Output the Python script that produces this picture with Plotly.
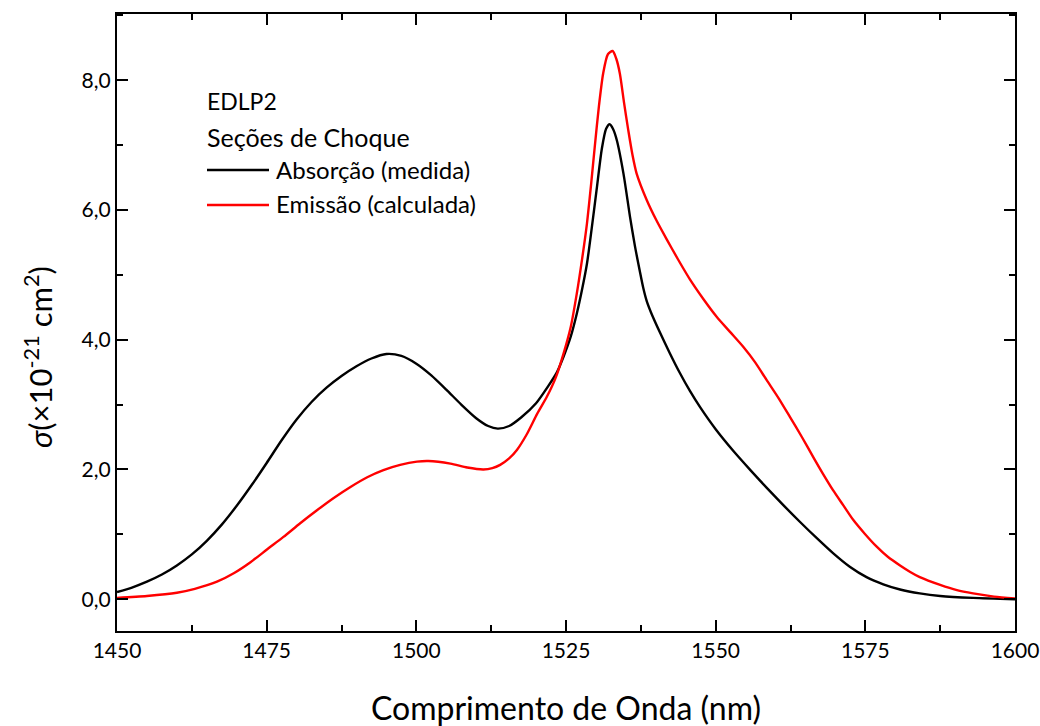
import plotly.graph_objects as go

# Absorption (measured) cross-section, x10^-21 cm^2
abs_wl = [1450, 1452.5, 1455, 1457.5, 1460, 1462.5, 1465, 1467.5, 1470, 1472.5,
          1475, 1477.5, 1480, 1482.5, 1485, 1487.5, 1490, 1492.5, 1495, 1497.5,
          1500, 1502.5, 1505, 1507.5, 1510, 1512, 1513.6, 1515.5, 1517.5, 1520,
          1522, 1523.5, 1524.6, 1525.8, 1526.8, 1527.7, 1528.5, 1529.3, 1530.1, 1531.0,
          1531.7, 1532.3, 1532.9, 1533.5, 1534.6, 1535.7, 1536.5, 1537.3, 1537.9, 1538.5,
          1539.2, 1540.7, 1542.3, 1544.0, 1545.7, 1547.4, 1550.0, 1553.0, 1555.8, 1558.5,
          1561.3, 1564.1, 1566.9, 1569.6, 1572.4, 1575.2, 1578.0, 1580.8, 1584.1, 1587.5,
          1593.0, 1600]
abs_val = [0.11, 0.18, 0.27, 0.38, 0.52, 0.69, 0.90, 1.15, 1.44, 1.76,
           2.10, 2.45, 2.77, 3.04, 3.26, 3.44, 3.59, 3.71, 3.78, 3.75,
           3.63, 3.45, 3.23, 3.00, 2.79, 2.67, 2.63, 2.67, 2.80, 3.02,
           3.28, 3.50, 3.74, 4.05, 4.40, 4.78, 5.17, 5.72, 6.30, 6.95,
           7.25, 7.32, 7.24, 7.07, 6.56, 5.89, 5.45, 5.07, 4.80, 4.59,
           4.42, 4.11, 3.80, 3.49, 3.21, 2.96, 2.62, 2.28, 1.99, 1.72,
           1.45, 1.19, 0.94, 0.71, 0.50, 0.34, 0.23, 0.15, 0.09, 0.05,
           0.02, 0.0]

# Emission (calculated) cross-section, x10^-21 cm^2
emi_wl = [1450, 1455, 1460, 1463, 1466.7, 1469.5, 1472.3, 1475.1, 1477.8, 1480.6,
          1483.4, 1486.2, 1489.0, 1491.8, 1494.5, 1497.3, 1500.1, 1502.0, 1505.7, 1508.5,
          1511.2, 1512.7, 1514.0, 1515.5, 1516.8, 1518.5, 1520.2, 1521.8, 1523.3, 1524.6,
          1525.8, 1526.8, 1527.7, 1528.5, 1529.2, 1529.8, 1530.5, 1531.2, 1532.0, 1532.8,
          1533.4, 1534.0, 1534.7, 1535.4, 1536.1, 1536.8, 1538.5, 1540.1, 1541.8, 1543.7,
          1545.7, 1548.0, 1550.2, 1552.4, 1554.6, 1556.6, 1558.5, 1560.5, 1562.4, 1564.4,
          1566.3, 1568.0, 1569.6, 1571.3, 1573.0, 1574.9, 1576.9, 1578.8, 1580.8, 1582.5,
          1584.1, 1587.5, 1590.3, 1593.0, 1596.5, 1600]
emi_val = [0.02, 0.05, 0.10, 0.16, 0.27, 0.40, 0.57, 0.77, 0.96, 1.17,
           1.37, 1.56, 1.73, 1.88, 1.99, 2.07, 2.12, 2.13, 2.09, 2.03,
           2.00, 2.02, 2.07, 2.17, 2.30, 2.55, 2.86, 3.12, 3.42, 3.79,
           4.20, 4.71, 5.25, 5.79, 6.40, 6.97, 7.60, 8.10, 8.40, 8.45,
           8.33, 8.10, 7.65, 7.23, 6.85, 6.56, 6.15, 5.84, 5.55, 5.24,
           4.93, 4.62, 4.35, 4.12, 3.89, 3.65, 3.38, 3.10, 2.81, 2.50,
           2.19, 1.92, 1.68, 1.45, 1.22, 1.01, 0.81, 0.65, 0.52, 0.42,
           0.34, 0.22, 0.14, 0.09, 0.04, 0.01]

x_ticks = [1450, 1475, 1500, 1525, 1550, 1575, 1600]
y_ticks = [0, 2, 4, 6, 8]

FONT = "Lato, 'Open Sans', sans-serif"

fig = go.Figure()
fig.add_trace(go.Scatter(x=abs_wl, y=abs_val, mode="lines", name="Absorção (medida)",
                         line=dict(color="black", width=2.4, shape="spline", smoothing=0.7)))
fig.add_trace(go.Scatter(x=emi_wl, y=emi_val, mode="lines", name="Emissão (calculada)",
                         line=dict(color="#ff0000", width=2.4, shape="spline", smoothing=0.7)))

axis_common = dict(showgrid=False, zeroline=False, showline=True, linecolor="black",
                   linewidth=2.4, mirror="allticks", ticks="inside", ticklen=11,
                   tickwidth=2.2, tickcolor="black", ticklabeloverflow="allow",
                   automargin=False,
                   tickfont=dict(family=FONT, size=21, color="black"))

fig.update_xaxes(range=[1450, 1600], tickvals=x_ticks, ticktext=[str(v) for v in x_ticks],
                 minor=dict(ticks="inside", ticklen=6, tickwidth=2.2, tickcolor="black", dtick=12.5),
                 **axis_common)
fig.update_yaxes(range=[-0.49, 9.02], tickvals=y_ticks, tickformat=".1f",
                 minor=dict(ticks="inside", ticklen=6, tickwidth=2.2, tickcolor="black", dtick=1),
                 **axis_common)

W, H = 1040, 726
PL, PR, PT, PB = 117, 1015, 14, 631          # plot box in page pixels
L, T, R, B = PL, PT, W - PR, H - PB
pw, ph = W - L - R, H - T - B

def px2paper(x, y):
    return (x - PL) / pw, 1 - (y - PT) / ph

ann = [
    dict(text="EDLP2", x=205, y=101, size=23),
    dict(text="Seções de Choque", x=205, y=137, size=25),
    dict(text="Absorção (medida)", x=274, y=170, size=24),
    dict(text="Emissão (calculada)", x=274, y=204, size=24),
]
for a in ann:
    xp, yp = px2paper(a["x"], a["y"])
    fig.add_annotation(text=a["text"], x=xp, y=yp, xref="paper", yref="paper",
                       xanchor="left", yanchor="middle", showarrow=False,
                       font=dict(family=FONT, size=a["size"], color="black"))

for yy, col in [(170, "black"), (205, "#ff0000")]:
    x0, y0 = px2paper(207, yy)
    x1, _ = px2paper(269, yy)
    fig.add_shape(type="line", xref="paper", yref="paper", x0=x0, x1=x1, y0=y0, y1=y0,
                  line=dict(color=col, width=2.4))

# axis titles
xt, yt = px2paper(566, 707)
fig.add_annotation(text="Comprimento de Onda (nm)", x=xt, y=yt, xref="paper", yref="paper",
                   showarrow=False, xanchor="center", yanchor="middle",
                   font=dict(family=FONT, size=32, color="black"))
xt, yt = px2paper(38, 357)
fig.add_annotation(text="<i>σ</i>(×10<sup>-21</sup> cm<sup>2</sup>)", x=xt, y=yt,
                   xref="paper", yref="paper", showarrow=False, textangle=-90,
                   xanchor="center", yanchor="middle",
                   font=dict(family=FONT, size=31, color="black"))

fig.update_layout(width=W, height=H, margin=dict(l=L, r=R, t=T, b=B),
                  plot_bgcolor="white", paper_bgcolor="white", showlegend=False,
                  separators=",.", font=dict(family=FONT, color="black"))

fig.write_html("out.html", config={"displayModeBar": False},
               post_script="document.body.style.margin='0';document.body.style.overflow='hidden';")
